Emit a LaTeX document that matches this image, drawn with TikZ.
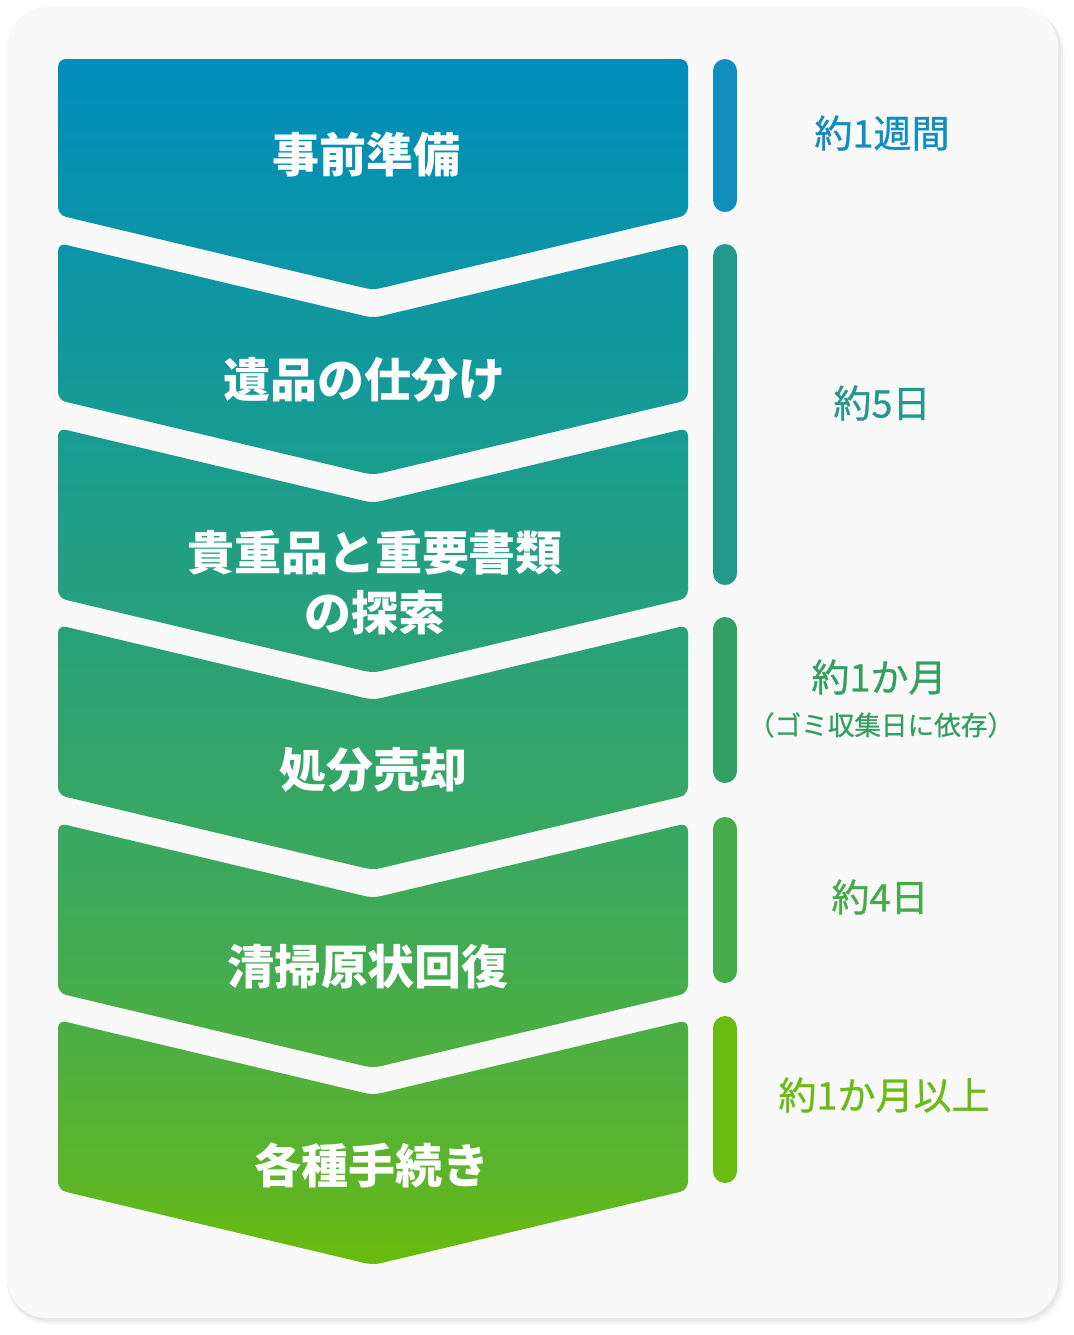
\documentclass[tikz,border=0pt]{standalone}
\usepackage{fontspec}
\setmainfont{Noto Sans CJK JP}
\newfontfamily\spanfont{Noto Sans CJK JP}[FakeBold=0.8]

\definecolor{cardbg}{HTML}{F9F9F9}
\definecolor{gradA}{HTML}{008DBC}
\definecolor{gradB}{HTML}{149A98}
\definecolor{gradC}{HTML}{2BA276}
\definecolor{gradD}{HTML}{42AB52}
\definecolor{gradE}{HTML}{5DB528}
\definecolor{gradF}{HTML}{6ABB0C}
\definecolor{spanA}{HTML}{118EBE}
\definecolor{spanB}{HTML}{22998C}
\definecolor{spanC}{HTML}{33A062}
\definecolor{spanD}{HTML}{48AB4A}
\definecolor{spanE}{HTML}{6BBB12}

% one gradient for the whole column (box maps to 25bp..75bp)
\pgfdeclareverticalshading{flowgrad}{100bp}{%
  color(0bp)=(gradF); color(25bp)=(gradF); color(28.5bp)=(gradE);
  color(38bp)=(gradD); color(50bp)=(gradC); color(61.25bp)=(gradB);
  color(75bp)=(gradA); color(100bp)=(gradA)}

% chevron with a notch on top: #1 top edge, #2 bottom of the sides
\newcommand{\notchstep}[2]{%
  (58,#1) -- (373,#1+75) -- (688,#1) -- (688,#2) -- (373,#2+75) -- (58,#2) -- cycle}

\tikzset{
  steplabel/.style={text=white, font=\fontsize{23.5}{30}\selectfont\bfseries, align=center},
  spanlabel/.style={font=\spanfont\fontsize{19}{22}\selectfont},
  spannote/.style={font=\spanfont\fontsize{13.3}{15}\selectfont},
  spanbar/.style={fill=#1, rounded corners=6pt},
}

\begin{document}
\begin{tikzpicture}[x=0.5pt,y=-0.5pt]
  \useasboundingbox (0,0) rectangle (1073,1335);

  % card with a soft shadow
  \foreach \d/\o in {7/0.02,5/0.035,3/0.045}
    \fill[black, opacity=\o, rounded corners=21pt] (7,7+\d/2) rectangle (1058+\d,1318+\d);
  \fill[cardbg, rounded corners=20pt] (7,7) rectangle (1058,1318);

  % chevrons
  \shade[shading=flowgrad, rounded corners=4pt]
    (58,59) -- (688,59) -- (688,215) -- (373,290) -- (58,215) -- cycle
    \notchstep{243}{400}
    \notchstep{428}{598}
    \notchstep{625}{795}
    \notchstep{823}{993}
    \notchstep{1020}{1190};

  % duration bars
  \foreach \top/\bot/\col in {59/212/spanA, 244/585/spanB, 617/783/spanC,
                              817/983/spanD, 1016/1183/spanE}
    \fill[spanbar=\col] (713,\top) rectangle (737,\bot);

  % step names
  \node[steplabel] (prep) at (366,155) {事前準備};
  \node[steplabel] (sort) at (364,380) {遺品の仕分け};
  \node[steplabel] (search) at (375,583) {貴重品と重要書類\\の探索};
  \node[steplabel] (sell) at (373,770) {処分売却};
  \node[steplabel] (clean) at (368,967) {清掃原状回復};
  \node[steplabel] (papers) at (372,1165) {各種手続き};

  % durations
  \node[spanlabel, text=spanA] (week) at (882,133) {約1週間};
  \node[spanlabel, text=spanB] (days5) at (882,403) {約5日};
  \node[spanlabel, text=spanC] (month) at (879,677) {約1か月};
  \node[spannote, text=spanC] (month note) at (881,725) {（ゴミ収集日に依存）};
  \node[spanlabel, text=spanD] (days4) at (880,897) {約4日};
  \node[spanlabel, text=spanE] (monthplus) at (884,1095) {約1か月以上};
\end{tikzpicture}
\end{document}
